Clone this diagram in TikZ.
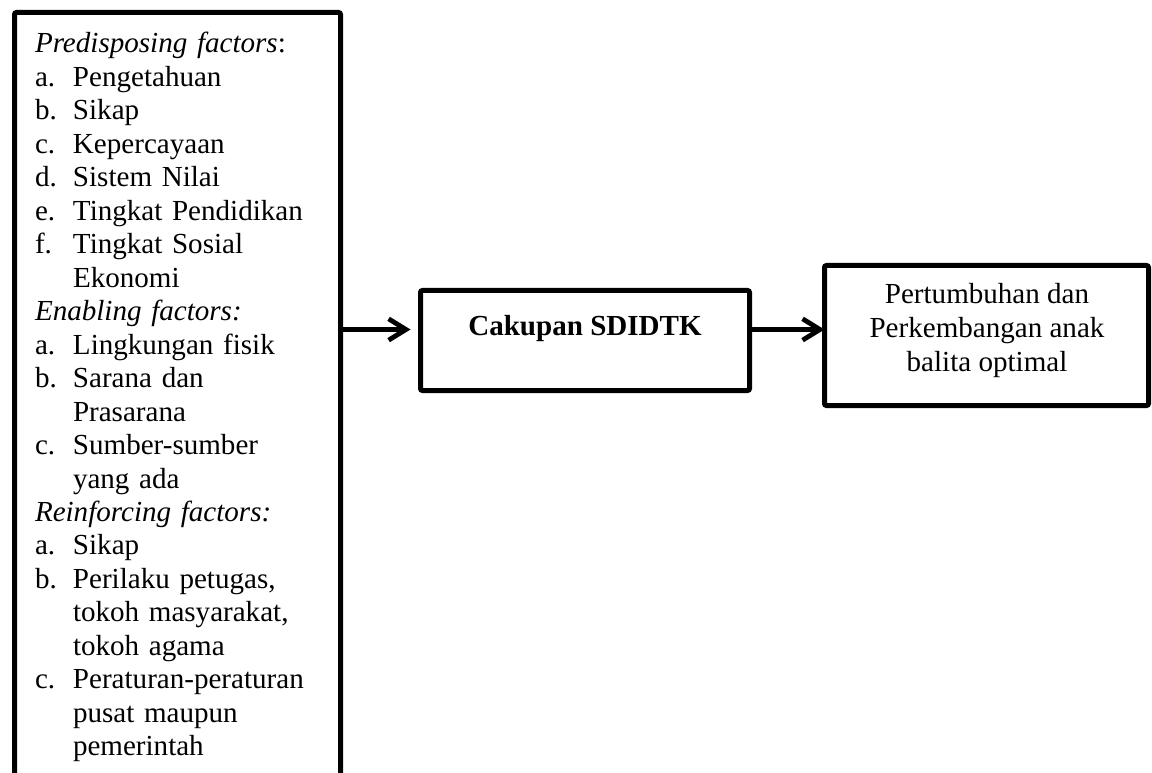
\documentclass[tikz,border=0pt]{standalone}
\usepackage{fontspec}
\setmainfont{Liberation Serif}
\usetikzlibrary{arrows.meta}
\newcommand{\myitem}[1]{\makebox[28.5pt][l]{#1}}
\begin{document}
\begin{tikzpicture}[x=0.75pt,y=-0.75pt,
  box/.style={draw, line width=3.75pt, rounded corners=1.5pt, inner sep=0pt, outer sep=0pt},
  txt/.style={inner sep=0pt, outer sep=0pt, font=\fontsize{21.8}{25.1}\selectfont},
  arr/.style={line width=3.6pt, -{Straight Barb[length=13pt,width=16pt]}}]
\useasboundingbox (0,0) rectangle (1152,773);
\clip (0,0) rectangle (1152,773);
\fill[white] (0,0) rectangle (1152,773);
% left box
\node[box, anchor=north west, minimum width=244.5pt, minimum height=600pt] (lb) at (14.5,12.5) {};
\node[txt, anchor=north west, text width=260pt, align=left] (lt) at (35,31.67) {%
\rule{0pt}{16pt}\textit{Predisposing factors}:\\
\myitem{a.}Pengetahuan\\
\myitem{b.}Sikap\\
\myitem{c.}Kepercayaan\\
\myitem{d.}Sistem Nilai\\
\myitem{e.}Tingkat Pendidikan\\
\myitem{f.}Tingkat Sosial\\
\myitem{}Ekonomi\\
\textit{Enabling factors:}\\
\myitem{a.}Lingkungan fisik\\
\myitem{b.}Sarana dan\\
\myitem{}Prasarana\\
\myitem{c.}Sumber-sumber\\
\myitem{}yang ada\\
\textit{Reinforcing factors:}\\
\myitem{a.}Sikap\\
\myitem{b.}Perilaku petugas,\\
\myitem{}tokoh masyarakat,\\
\myitem{}tokoh agama\\
\myitem{c.}Peraturan-peraturan\\
\myitem{}pusat maupun\\
\myitem{}pemerintah};
% middle box
\node[box, minimum width=246.75pt, minimum height=75pt] (mid) at (585,340.5) {};
\node[txt, anchor=base, font=\fontsize{21.8}{25.1}\selectfont\bfseries] (midt) at (585,335) {Cakupan SDIDTK};
% right box
\node[box, minimum width=243pt, minimum height=105pt] (rb) at (986.5,335.5) {};
\node[txt, anchor=north, align=center, font=\fontsize{21.8}{25.6}\selectfont] (rt) at (987,281.67) {\rule{0pt}{16pt}Pertumbuhan dan\\ Perkembangan anak\\ balita optimal};
% connectors
\coordinate (ay) at (0,329.5);
\draw[arr, shorten >=7.5pt] (lb.east |- ay) -- (mid.west |- ay);
\draw[arr] (mid.east |- ay) -- (rb.west |- ay);
\end{tikzpicture}
\end{document}
